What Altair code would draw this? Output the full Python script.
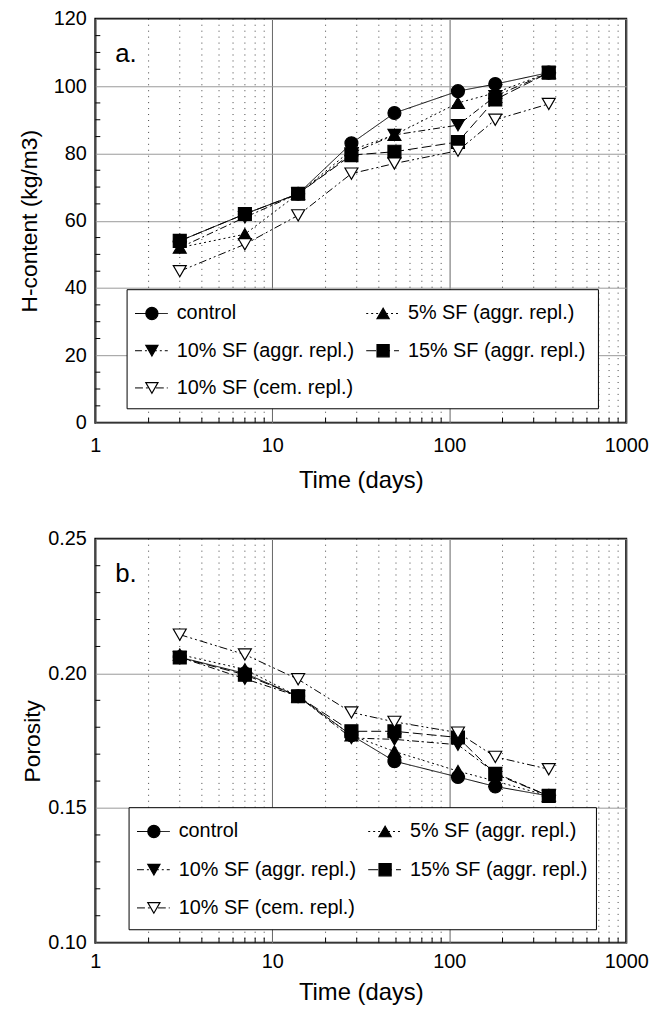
import altair as alt
import pandas as pd

FONT = "Liberation Sans"

series = ["control", "5% SF (aggr. repl.)", "10% SF (aggr. repl.)",
          "15% SF (aggr. repl.)", "10% SF (cem. repl.)"]
shapes = ["circle", "triangle-up", "triangle-down", "square", "triangle-down"]
fills = ["black", "black", "black", "black", "white"]
dashes = [[1, 0], [2, 3], [7, 3, 2, 3], [10, 4], [8, 3, 2, 3, 2, 3]]

days = [3, 7, 14, 28, 49, 112, 182, 365]

# panel a: H-content (kg/m3)
h_control = [54, 62, 68, 83, 92, 98.5, 100.6, 104]
h_sf5 = [52, 56, 68, 81, 85.5, 95, 98, 104]
h_sf10 = [52, 61, 68, 80, 85.5, 88.4, 97, 104]
h_sf15 = [54, 62, 68, 79.5, 80.5, 83.4, 96, 104]
h_cem10 = [45, 53, 61.6, 74, 77, 80.8, 90, 94.7]

# panel b: porosity
p_control = [0.206, 0.200, 0.1915, 0.177, 0.1674, 0.1615, 0.158, 0.1545]
p_sf5 = [0.207, 0.2015, 0.1915, 0.177, 0.171, 0.1637, 0.160, 0.1545]
p_sf10 = [0.206, 0.198, 0.1915, 0.176, 0.1755, 0.1735, 0.163, 0.1545]
p_sf15 = [0.2059, 0.1995, 0.1915, 0.1785, 0.1785, 0.1762, 0.1626, 0.1545]
p_cem10 = [0.2144, 0.207, 0.1978, 0.1855, 0.182, 0.178, 0.169, 0.1644]

x_major = [1, 10, 100, 1000]
x_minor = [2, 3, 4, 5, 6, 7, 8, 9, 20, 30, 40, 50, 60, 70, 80, 90,
           200, 300, 400, 500, 600, 700, 800, 900]
ya_major = [0, 20, 40, 60, 80, 100, 120]
ya_minor = [5, 10, 15, 25, 30, 35, 45, 50, 55, 65, 70, 75, 85, 90, 95, 105, 110, 115]
yb_major = [0.10, 0.15, 0.20, 0.25]
yb_minor = [0.11, 0.12, 0.13, 0.14, 0.16, 0.17, 0.18, 0.19, 0.21, 0.22, 0.23, 0.24]
letters = ["a.", "b."]

W = 535


def long_df(vals_list):
    rows = []
    for s, vals in zip(series, vals_list):
        for d, v in zip(days, vals):
            rows.append({"series": s, "days": d, "value": v})
    return pd.DataFrame(rows)


def legend_df(bx, by, dy):
    # legend layout (pixels inside the plot area), two columns, row-major
    rows = []
    for i, s in enumerate(series):
        col, row = i % 2, i // 2
        sx = bx + 25 + col * 233
        ly = by + 24 + row * dy
        rows.append({"series": s, "sx": sx, "ly": ly, "x1": sx - 17, "x2": sx + 16,
                     "tx": sx + 25})
    return pd.DataFrame(rows)


def panel(vals_list, ydom, ymaj, ymin, ytitle, yfmt, ytp, letter, box, dy, H, xlp, xtp):
    df = long_df(vals_list)
    xenc = alt.X("days:Q",
                 scale=alt.Scale(type="log", domain=[1, 1000], nice=False),
                 axis=alt.Axis(values=x_major, format="d", title="Time (days)",
                               grid=True, gridColor="#666", gridWidth=1,
                               ticks=False, domain=False,
                               labelFontSize=20, labelFont=FONT, labelColor="black",
                               labelPadding=xlp, titleFontSize=24, titleFont=FONT,
                               titleFontWeight="normal", titleColor="black",
                               titlePadding=xtp, labelFlush=False))
    yenc = alt.Y("value:Q",
                 scale=alt.Scale(domain=ydom, nice=False, zero=False),
                 axis=alt.Axis(values=ymaj, format=yfmt, title=ytitle,
                               grid=True, gridColor="#999", gridWidth=1,
                               ticks=False, domain=False,
                               labelFontSize=20, labelFont=FONT, labelColor="black",
                               labelPadding=9, titleFontSize=23, titleFont=FONT,
                               titleFontWeight="normal", titleColor="black",
                               titlePadding=ytp))
    dash_scale = alt.Scale(domain=series, range=dashes)
    shape_scale = alt.Scale(domain=series, range=shapes)
    fill_scale = alt.Scale(domain=series, range=fills)

    minor_x = pd.DataFrame({"days": x_minor})
    minor_y = pd.DataFrame({"value": ymin})

    dots = alt.Chart(minor_x).mark_rule(color="black", strokeWidth=1,
                                        strokeDash=[1, 5], opacity=0.75).encode(x=xenc)
    xt = alt.Chart(minor_x).mark_rule(color="black", strokeWidth=1).encode(
        x=xenc, y=alt.value(H), y2=alt.value(H - 5))
    yt = alt.Chart(minor_y).mark_rule(color="black", strokeWidth=1).encode(
        y=yenc, x=alt.value(0), x2=alt.value(5))

    lines = alt.Chart(df).mark_line(color="black", strokeWidth=1).encode(
        x=xenc, y=yenc,
        strokeDash=alt.StrokeDash("series:N", scale=dash_scale, legend=None))

    pts = alt.Chart(df).mark_point(filled=True, stroke="black", strokeWidth=1.2,
                                   size=170, opacity=1).encode(
        x=xenc, y=yenc,
        shape=alt.Shape("series:N", scale=shape_scale, legend=None),
        fill=alt.Fill("series:N", scale=fill_scale, legend=None))

    txt = alt.Chart(pd.DataFrame({"t": [letter]})).mark_text(
        fontSize=26, font=FONT, align="left", baseline="middle", color="black").encode(
        text="t:N", x=alt.value(20), y=alt.value(36))

    # legend box
    bx, by, bx2, by2 = box
    ldf = legend_df(bx, by, dy)
    lbox = alt.Chart(pd.DataFrame({"k": [0]})).mark_rect(
        fill="white", stroke="black", strokeWidth=1).encode(
        x=alt.value(bx), x2=alt.value(bx2), y=alt.value(by), y2=alt.value(by2))
    lline = alt.Chart(ldf).mark_rule(color="black", strokeWidth=1).encode(
        x=alt.X("x1:Q", scale=None), x2="x2:Q", y=alt.Y("ly:Q", scale=None),
        strokeDash=alt.StrokeDash("series:N", scale=dash_scale, legend=None))
    lpts = alt.Chart(ldf).mark_point(filled=True, stroke="black", strokeWidth=1.2,
                                     size=150, opacity=1).encode(
        x=alt.X("sx:Q", scale=None), y=alt.Y("ly:Q", scale=None),
        shape=alt.Shape("series:N", scale=shape_scale, legend=None),
        fill=alt.Fill("series:N", scale=fill_scale, legend=None))
    ltxt = alt.Chart(ldf).mark_text(fontSize=20, font=FONT, align="left",
                                    baseline="middle", color="black").encode(
        x=alt.X("tx:Q", scale=None), y=alt.Y("ly:Q", scale=None), text="series:N")

    return alt.layer(dots, xt, yt, lines, pts, txt, lbox, lline, lpts, ltxt).properties(
        width=W, height=H)


top = panel([h_control, h_sf5, h_sf10, h_sf15, h_cem10], [0, 120], ya_major, ya_minor,
            "H-content (kg/m3)", "d", 12, letters[0], (32, 273, 507, 393), 37.5,
            407, 13, 13)
bottom = panel([p_control, p_sf5, p_sf10, p_sf15, p_cem10], [0.10, 0.25], yb_major, yb_minor,
               "Porosity", ".2f", 3, letters[1], (34, 271, 505, 394), 38.5,
               407, 9, 9)

chart = alt.vconcat(top, bottom, spacing=35).resolve_scale(
    shape="independent", fill="independent", strokeDash="independent"
).properties(
    padding={"left": 9, "top": -4, "right": 5, "bottom": 0}
).configure_view(stroke="black", strokeWidth=2)

chart.save("out.html", embed_options={"renderer": "svg", "actions": False})
